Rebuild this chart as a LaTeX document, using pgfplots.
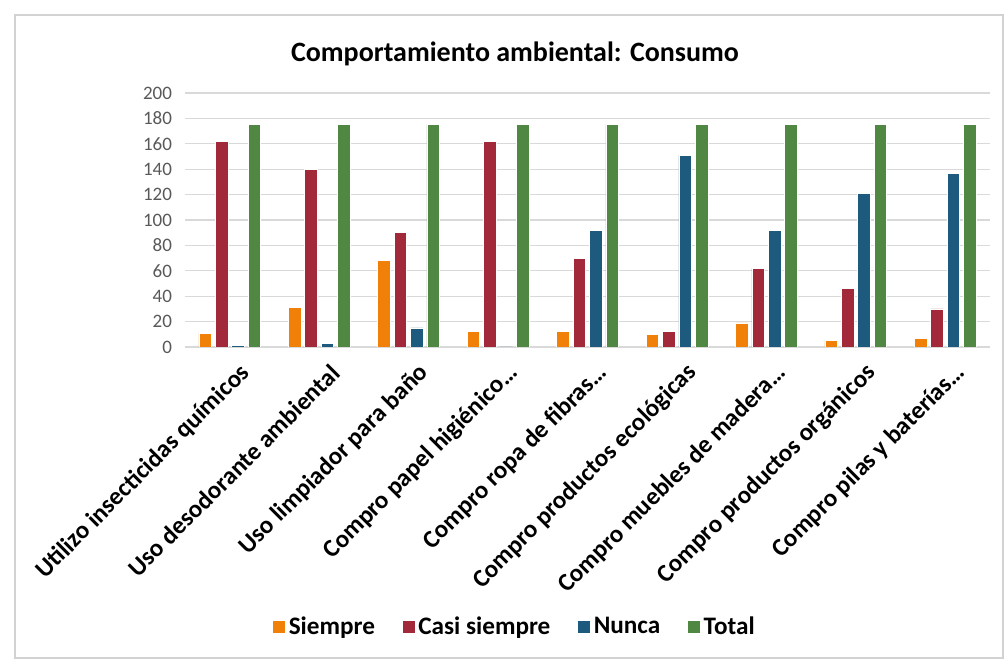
\documentclass[border=0pt]{standalone}
\usepackage{pgfplots}
\pgfplotsset{compat=1.18}
\usepackage{fontspec}
\setmainfont{Carlito}
\definecolor{cSiempre}{RGB}{240,128,8}
\definecolor{cCasi}{RGB}{162,41,58}
\definecolor{cNunca}{RGB}{30,90,126}
\definecolor{cTotal}{RGB}{80,135,66}
\definecolor{gridc}{RGB}{217,217,217}
\definecolor{tickc}{RGB}{89,89,89}
\begin{document}
\begin{tikzpicture}
\path[fill=white] (0pt,0pt) rectangle (503pt,331pt);
\draw[gray!35, line width=0.6pt] (7.5pt,2pt) rectangle (501.5pt,323.5pt);
\node[font=\fontsize{14}{16}\selectfont\bfseries] at (257.5pt,304pt) {Comportamiento ambiental: Consumo};
\begin{axis}[
  at={(92.5pt,157.5pt)}, anchor=south west,
  scale only axis, width=402.5pt, height=127pt,
  ybar, bar width=6.3pt, ybar=1.9pt,
  xmin=-0.5, xmax=8.5, ymin=0, ymax=200,
  xtick={0,...,8}, ytick={0,20,...,200},
  xticklabels={Utilizo insecticidas químicos, Uso desodorante ambiental, Uso limpiador para baño, Compro papel higiénico…, Compro ropa de fibras…, Compro productos ecológicas, Compro muebles de madera…, Compro productos orgánicos, Compro pilas y baterías…},
  xticklabel style={rotate=45, anchor=east, font=\fontsize{12.5}{14}\selectfont\bfseries, inner sep=1pt, yshift=-13.5pt, xshift=-1pt},
  yticklabel style={font=\fontsize{9.5}{11}\selectfont, text=tickc, xshift=-3pt},
  /pgf/number format/assume math mode=true,
  major tick length=0pt,
  ymajorgrids, grid style={gridc, line width=0.6pt},
  axis x line*=bottom, axis y line*=left,
  axis line style={gridc, line width=0.8pt},
  y axis line style={draw=none},
  legend columns=4,
  legend style={at={(0.41,-1.102)}, anchor=center, draw=none, fill=none,
    font=\fontsize{12.6}{14}\selectfont\bfseries,
    /tikz/every even column/.style={column sep=12pt},
    nodes={inner sep=1.5pt}},
  legend image code/.code={\fill[#1] (0pt,-3.2pt) rectangle (6.4pt,3.2pt);},
  every axis plot/.append style={draw=white, line width=0.3pt},
]
\addplot[fill=cSiempre] coordinates {(0,11) (1,31) (2,68) (3,12) (4,12) (5,10) (6,19) (7,5) (8,7)};
\addplot[fill=cCasi] coordinates {(0,162) (1,140) (2,90) (3,162) (4,70) (5,12) (6,62) (7,46) (8,30)};
\addplot[fill=cNunca] coordinates {(0,1) (1,3) (2,15) (3,0) (4,92) (5,151) (6,92) (7,121) (8,137)};
\addplot[fill=cTotal] coordinates {(0,175) (1,175) (2,175) (3,175) (4,175) (5,175) (6,175) (7,175) (8,175)};
\legend{Siempre, Casi siempre, Nunca, Total}
\end{axis}
\end{tikzpicture}
\end{document}
